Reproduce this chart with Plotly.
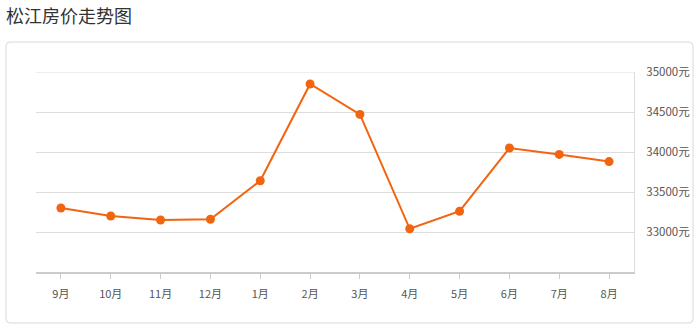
import plotly.graph_objects as go

months = ["9月", "10月", "11月", "12月", "1月", "2月", "3月", "4月", "5月", "6月", "7月", "8月"]
prices = [33300, 33200, 33150, 33160, 33640, 34850, 34470, 33040, 33260, 34050, 33970, 33880]
ytick_vals = [33000, 33500, 34000, 34500, 35000]
ytick_text = [f"{v}元" for v in ytick_vals]
title_text = "松江房价走势图"

W, H = 699, 329
L, R, T, B = 36, 634, 72, 272
pw, ph = R - L, B - T

def px(x):
    return (x - L) / pw

def py(y):
    return (B - y) / ph

# rounded card path in paper coords
x0, x1, y0, y1, r = 6, 693, 42, 323, 4
path = (
    f"M {px(x0+r)},{py(y0)} L {px(x1-r)},{py(y0)} Q {px(x1)},{py(y0)} {px(x1)},{py(y0+r)} "
    f"L {px(x1)},{py(y1-r)} Q {px(x1)},{py(y1)} {px(x1-r)},{py(y1)} "
    f"L {px(x0+r)},{py(y1)} Q {px(x0)},{py(y1)} {px(x0)},{py(y1-r)} "
    f"L {px(x0)},{py(y0+r)} Q {px(x0)},{py(y0)} {px(x0+r)},{py(y0)} Z"
)

font = "Noto Sans CJK SC, Noto Sans, sans-serif"
color = "#f2640f"

fig = go.Figure()
fig.add_trace(go.Scatter(
    x=months, y=prices, mode="lines+markers",
    line=dict(color=color, width=2),
    marker=dict(color=color, size=9),
    hoverinfo="x+y",
))

fig.update_layout(
    width=W, height=H,
    margin=dict(l=L, r=W - R, t=T, b=H - B, pad=0, autoexpand=False),
    paper_bgcolor="white", plot_bgcolor="white",
    showlegend=False,
    font=dict(family=font, size=12, color="#555555"),
    shapes=[
        dict(type="path", xref="paper", yref="paper", path=path,
             line=dict(color="#d9d9d9", width=1), fillcolor="rgba(0,0,0,0)", layer="below"),
        dict(type="line", xref="paper", yref="y", x0=0, x1=1, y0=ytick_vals[-1], y1=ytick_vals[-1],
             line=dict(color="#dddddd", width=1), layer="below"),
    ],
    annotations=[dict(text=title_text, xref="paper", yref="paper",
                      x=px(4), y=py(15), xanchor="left", yanchor="middle",
                      showarrow=False, font=dict(size=18, color="#333333", family=font))],
)
fig.update_xaxes(
    type="category", range=[-0.5, 11.5], automargin=False,
    showline=True, linecolor="#cccccc", linewidth=2,
    showgrid=False, zeroline=False,
    ticks="outside", ticklen=5, tickcolor="#cccccc", tickwidth=1,
    tickfont=dict(size=11, color="#555555"),
    ticklabelstandoff=6,
)
fig.update_yaxes(
    side="right", range=[32500, 35000], automargin=False,
    tickvals=ytick_vals, ticktext=ytick_text,
    showline=True, linecolor="#dddddd", linewidth=1,
    showgrid=True, gridcolor="#dddddd", gridwidth=1,
    zeroline=False, ticks="",
    tickfont=dict(size=11.5, color="#555555"),
    ticklabelstandoff=9,
)

fig.write_html("out.html")
